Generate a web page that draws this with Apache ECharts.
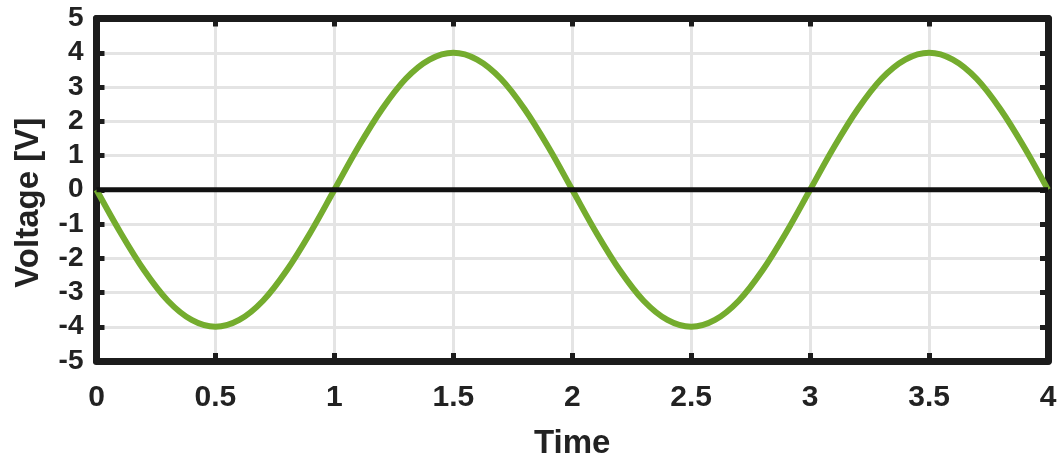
<!DOCTYPE html>
<html>
<head>
<meta charset="utf-8">
<script src="https://cdn.jsdelivr.net/npm/echarts@6/dist/echarts.min.js"></script>
<style>html,body{margin:0;padding:0;background:#fff}#c{width:1059px;height:463px}</style>
</head>
<body>
<div id="c"></div>
<script>
const times = [0,0.1,0.2,0.3,0.4,0.5,0.6,0.7,0.8,0.9,1.0,1.1,1.2,1.3,1.4,1.5,1.6,1.7,1.8,1.9,2.0,2.1,2.2,2.3,2.4,2.5,2.6,2.7,2.8,2.9,3.0,3.1,3.2,3.3,3.4,3.5,3.6,3.7,3.8,3.9,4.0];
const voltage = [0,-1.24,-2.35,-3.24,-3.8,-4.0,-3.8,-3.24,-2.35,-1.24,0,1.24,2.35,3.24,3.8,4.0,3.8,3.24,2.35,1.24,0,-1.24,-2.35,-3.24,-3.8,-4.0,-3.8,-3.24,-2.35,-1.24,0,1.24,2.35,3.24,3.8,4.0,3.8,3.24,2.35,1.24,0];
const xTicks = [0,0.5,1,1.5,2,2.5,3,3.5,4];
const yTicks = [-5,-4,-3,-2,-1,0,1,2,3,4,5];
const xTitle = 'Time';
const yTitle = 'Voltage [V]';

const chart = echarts.init(document.getElementById('c'), null, {renderer:'canvas'});
const font = 'Liberation Sans, Arial, sans-serif';
const frame = {show:true, onZero:false, lineStyle:{color:'#1c1c1c', width:7}};
const tick = {show:true, inside:true, length:8, lineStyle:{color:'#1c1c1c', width:5}};
const gridLine = {show:true, lineStyle:{color:'#e4e4e4', width:3}};
chart.setOption({
  animation:false,
  backgroundColor:'#fff',
  grid:{left:96.5, right:11, top:18.5, bottom:102, containLabel:false, outerBoundsMode:'none'},
  xAxis:[
    {type:'value', min:0, max:4, interval:0.5, position:'bottom',
     axisLine:frame, axisTick:tick, splitLine:gridLine,
     axisLabel:{margin:22, formatter:v=>String(v), fontFamily:font, fontWeight:'bold', fontSize:30, color:'#222'},
     name:xTitle, nameLocation:'middle', nameGap:66,
     nameTextStyle:{fontFamily:font, fontWeight:'bold', fontSize:33, color:'#222'}},
    {type:'value', min:0, max:4, interval:0.5, position:'top',
     axisLine:frame, axisTick:tick, splitLine:{show:false}, axisLabel:{show:false}}
  ],
  yAxis:[
    {type:'value', min:-5, max:5, interval:1, position:'left',
     axisLine:frame, axisTick:tick, splitLine:gridLine,
     axisLabel:{margin:13, fontFamily:font, fontWeight:'bold', fontSize:28, color:'#222'},
     name:yTitle, nameLocation:'middle', nameGap:51, nameRotate:90,
     nameTextStyle:{fontFamily:font, fontWeight:'bold', fontSize:33, color:'#222', padding:[0,26,0,0]}},
    {type:'value', min:-5, max:5, interval:1, position:'right',
     axisLine:frame, axisTick:tick, splitLine:{show:false}, axisLabel:{show:false}}
  ],
  series:[
    {type:'line', data:times.map((t,i)=>[t, voltage[i]]), smooth:0.35, showSymbol:false,
     lineStyle:{color:'#74ac2e', width:6}, z:3},
    {type:'line', data:[[xTicks[0],0],[xTicks[xTicks.length-1],0]], showSymbol:false,
     lineStyle:{color:'#111', width:5}, z:4}
  ]
});
</script>
</body>
</html>
